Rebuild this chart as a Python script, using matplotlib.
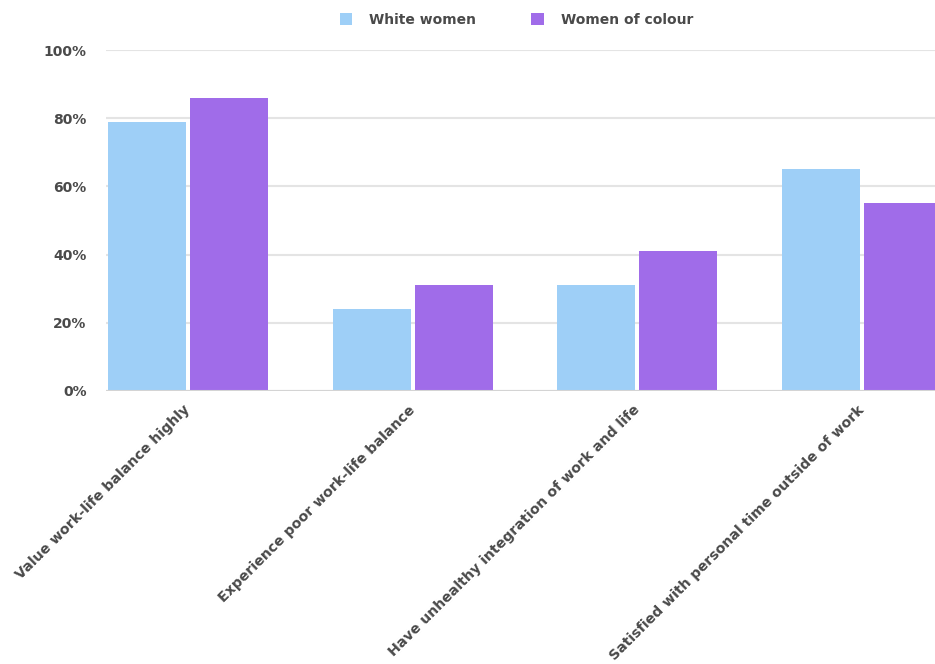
import numpy as np
import matplotlib.pyplot as plt

# Data
categorias = [
    "Value work-life balance highly",
    "Experience poor work-life balance",
    "Have unhealthy integration of work and life",
    "Satisfied with personal time outside of work",
]
white_women = [79, 24, 31, 65]
women_of_colour = [86, 31, 41, 55]
yticks = [0, 20, 40, 60, 80, 100]
ytick_labels = [f"{v}%" for v in yticks]

plt.rcParams['font.family'] = ['DejaVu Sans']
color_texto = '#4a4a4a'

fig = plt.figure(figsize=(9.35, 6.64), dpi=100)
ax = fig.add_axes([106 / 935, 1 - 391 / 664, 1 - 106 / 935, (391 - 50) / 664])

x = np.arange(len(categorias))
ancho = 78 / 225
desp = 82 / 225 / 2

ax.bar(x - desp, white_women, width=ancho, color='#9ecff7', label='White women', zorder=3)
ax.bar(x + desp, women_of_colour, width=ancho, color='#a06ce9', label='Women of colour', zorder=3)

ax.set_xlim(-82 / 225, 3 + 73 / 225)
ax.set_ylim(0, 100)
ax.set_yticks(yticks)
ax.set_yticklabels(ytick_labels, fontsize=10, fontweight='bold', color=color_texto)
ax.set_xticks(x)
ax.set_xticklabels(categorias, rotation=45, ha='right', va='center', rotation_mode='anchor',
                   fontsize=10.2, fontweight='bold', color=color_texto)
ax.tick_params(axis='both', length=0)
ax.tick_params(axis='y', pad=14)
ax.tick_params(axis='x', pad=12)

for s in ax.spines.values():
    s.set_visible(False)
ax.grid(axis='y', color='#e4e4e4', linewidth=1.5, zorder=0)
ax.axhline(0, color='#d4d4d4', linewidth=1.5, zorder=4)

ax.legend(loc='center', bbox_to_anchor=(0.495, 1 + 30 / 341), ncol=2, frameon=False,
          handlelength=0.9, handleheight=0.9, columnspacing=4.0,
          handletextpad=1.2, prop={'weight': 'bold', 'size': 10},
          labelcolor=color_texto)

fig.savefig("out.png", dpi=100, facecolor='white')
